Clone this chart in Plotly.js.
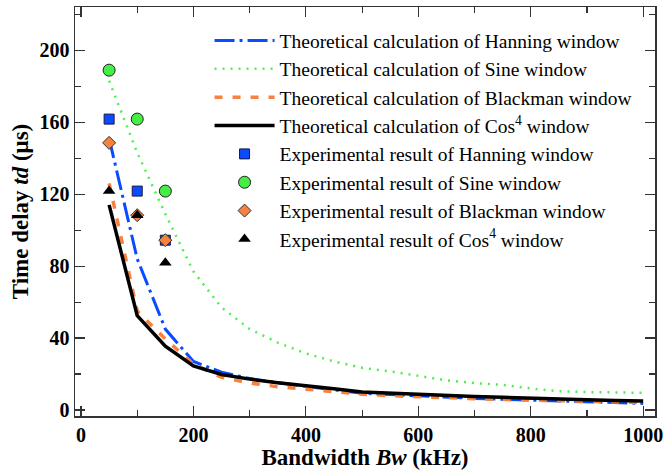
<!DOCTYPE html>
<html>
<head>
<meta charset="utf-8">
<script src="https://cdn.plot.ly/plotly-3.0.1.min.js"></script>
<style>html,body{margin:0;padding:0;background:#fff;}#chart{width:669px;height:475px;}</style>
</head>
<body>
<div id="chart"></div>
<script>
// Theoretical curves
const bwTheory = [50,100,150,200,250,300,350,400,450,500,550,600,650,700,750,800,850,900,950,1000];
const hanningTheory  = [151, 84, 45, 27, 21, 17.5, 15.2, 13.0, 11.2, 9.3, 8.5, 7.8, 7.2, 6.5, 6.0, 5.5, 5.0, 4.5, 4.1, 3.7];
const sineTheory     = [183, 143, 109, 77, 57, 45, 37.5, 31.5, 27, 23.5, 21.5, 19, 16.5, 15, 14, 12, 10.5, 10, 9.8, 9.6];
const blackmanTheory = [126, 55, 39.5, 25.5, 18.2, 15.0, 13.0, 11.5, 10.0, 8.8, 8.0, 7.3, 6.8, 6.3, 5.9, 5.5, 5.1, 4.8, 4.5, 4.2];
const cos4Theory     = [114, 52.5, 35.5, 24.5, 19.8, 17.2, 15.2, 13.3, 11.8, 10.0, 9.3, 8.8, 8.3, 7.6, 7.1, 6.5, 6.1, 5.7, 5.3, 5.0];

// Experimental results
const bwExp = [50, 100, 150];
const hanningExp  = [161.7, 121.7, 94.4];
const sineExp     = [188.9, 161.7, 121.7];
const blackmanExp = [148.5, 108.3, 94.4];
const cos4Exp     = [121.7, 108.3, 81.8];

const names = {
  hT: 'Theoretical calculation of Hanning window',
  sT: 'Theoretical calculation of Sine window',
  bT: 'Theoretical calculation of Blackman window',
  cT: 'Theoretical calculation of Cos<sup>4</sup> window',
  hE: 'Experimental result of Hanning window',
  sE: 'Experimental result of Sine window',
  bE: 'Experimental result of Blackman window',
  cE: 'Experimental result of Cos<sup>4</sup> window'
};

const traces = [
  {x: bwTheory, y: hanningTheory, mode: 'lines', name: names.hT,
   line: {color: '#0a4bff', width: 3, dash: '20px,5px,3px,5px'}},
  {x: bwTheory, y: sineTheory, mode: 'lines', name: names.sT,
   line: {color: '#4cf04c', width: 2.5, dash: '2px,6px'}},
  {x: bwTheory, y: blackmanTheory, mode: 'lines', name: names.bT,
   line: {color: '#f7813e', width: 3.5, dash: '8px,10px'}},
  {x: bwTheory, y: cos4Theory, mode: 'lines', name: names.cT,
   line: {color: '#000000', width: 3.5}},
  {x: bwExp, y: hanningExp, mode: 'markers', name: names.hE,
   marker: {symbol: 'square', size: 10, color: '#0a4bff', line: {color: '#1a1a40', width: 1}}},
  {x: bwExp, y: sineExp, mode: 'markers', name: names.sE,
   marker: {symbol: 'circle', size: 12, color: '#44ee44', line: {color: '#222', width: 1}}},
  {x: bwExp, y: blackmanExp, mode: 'markers', name: names.bE,
   marker: {symbol: 'diamond', size: 10, color: '#f7813e', line: {color: '#333', width: 1}}},
  {x: bwExp, y: cos4Exp, mode: 'markers', name: names.cE,
   marker: {symbol: 'triangle-up', size: 11, color: '#000000', line: {color: '#000', width: 0}}}
];

const serif = '"Liberation Serif", "Times New Roman", serif';
const tickFont = {family: serif, size: 20, color: '#000', weight: 'bold'};
const titleFont = {family: serif, size: 23, color: '#000', weight: 'bold'};

const layout = {
  width: 669, height: 475,
  margin: {l: 75, r: 14, t: 7, b: 59},
  paper_bgcolor: '#fff', plot_bgcolor: '#fff',
  showlegend: true,
  legend: {
    x: 0.232, y: 0.965, xanchor: 'left', yanchor: 'top',
    bgcolor: 'rgba(0,0,0,0)', borderwidth: 0,
    font: {family: serif, size: 19.5, color: '#000'},
    tracegroupgap: 0, itemwidth: 60
  },
  xaxis: {
    range: [-10.7, 1021], tickmode: 'linear', tick0: 0, dtick: 200,
    ticks: 'inside', ticklen: 10, tickwidth: 1.2, tickcolor: '#333',
    minor: {dtick: 100, ticks: 'inside', ticklen: 6, tickwidth: 1.2, tickcolor: '#333'},
    showline: true, linecolor: '#333', linewidth: 1.5, mirror: 'ticks',
    showgrid: false, zeroline: false,
    tickfont: tickFont,
    title: {text: 'Bandwidth <i>Bw</i> (kHz)', font: titleFont, standoff: 2}
  },
  yaxis: {
    range: [-3.3, 224], tickmode: 'linear', tick0: 0, dtick: 40,
    ticks: 'inside', ticklen: 10, tickwidth: 1.2, tickcolor: '#333',
    minor: {dtick: 20, ticks: 'inside', ticklen: 6, tickwidth: 1.2, tickcolor: '#333'},
    showline: true, linecolor: '#333', linewidth: 1.5, mirror: 'ticks',
    showgrid: false, zeroline: false,
    tickfont: tickFont,
    title: {text: 'Time delay <i>td</i> (μs)', font: titleFont, standoff: 4}
  }
};

Plotly.newPlot('chart', traces, layout, {displayModeBar: false, staticPlot: true});
</script>
</body>
</html>
